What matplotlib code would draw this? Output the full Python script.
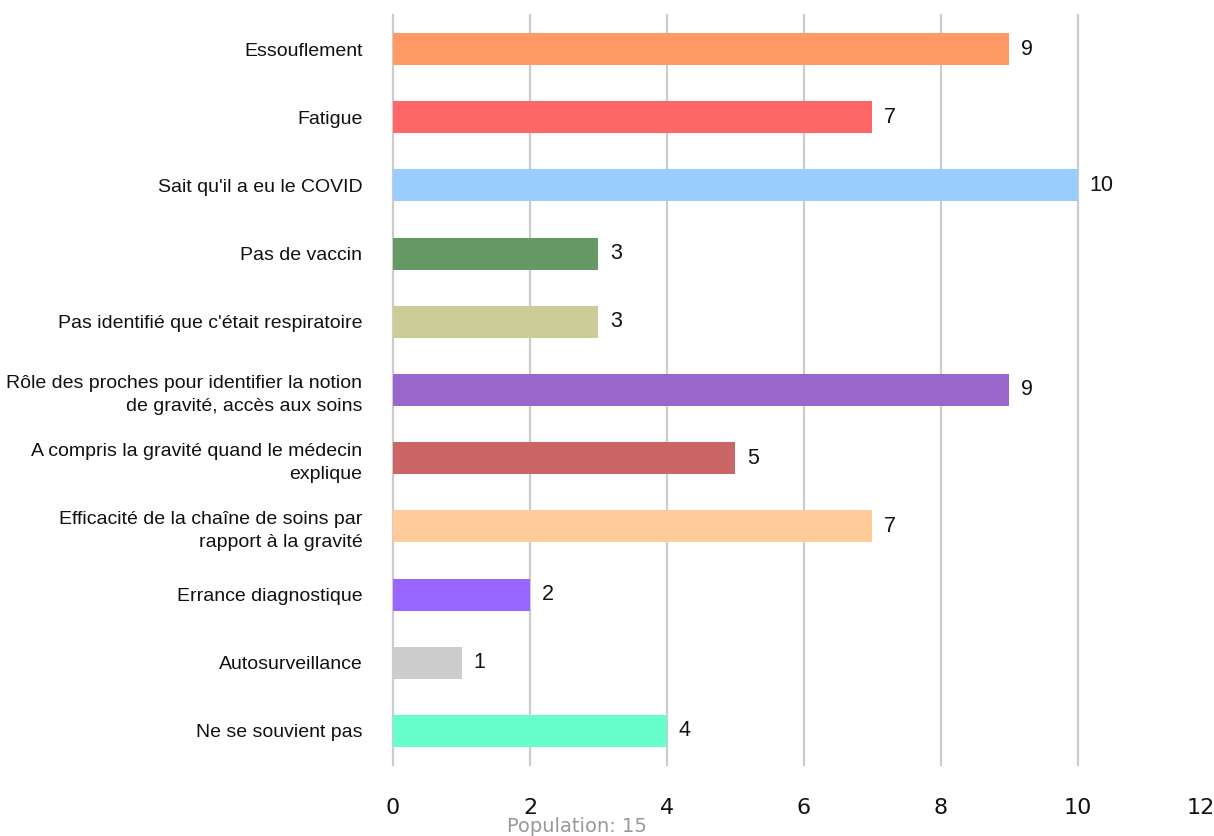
import matplotlib
matplotlib.use("Agg")
import matplotlib.pyplot as plt

categories = [
    "Essouflement",
    "Fatigue",
    "Sait qu'il a eu le COVID",
    "Pas de vaccin",
    "Pas identifié que c'était respiratoire",
    "Rôle des proches pour identifier la notion\nde gravité, accès aux soins",
    "A compris la gravité quand le médecin\nexplique",
    "Efficacité de la chaîne de soins par\nrapport à la gravité",
    "Errance diagnostique",
    "Autosurveillance",
    "Ne se souvient pas",
]
values = [9, 7, 10, 3, 3, 9, 5, 7, 2, 1, 4]
colors = ["#FF9966", "#FF6666", "#99CCFF", "#669966", "#CCCC99", "#9966CC",
          "#CC6666", "#FFCC99", "#9966FF", "#CCCCCC", "#66FFCC"]
x_ticks = [0, 2, 4, 6, 8, 10, 12]
footer = "Population: 15"

W, H = 1214, 836
fig = plt.figure(figsize=(W / 100, H / 100), dpi=100)
ax = fig.add_axes([393 / W, 1 - 765 / H, (1215 - 393) / W, (765 - 15) / H])

ypos = list(range(len(categories)))
ax.barh(ypos, values, height=0.47, color=colors, zorder=3)
for y, v in zip(ypos, values):
    ax.text(v + 0.17, y, str(v), va="center", ha="left", fontsize=15.5,
            family="Liberation Sans", color="#111111")

ax.set_ylim(len(categories) - 0.5, -0.5)
ax.set_xlim(0, 12)
ax.set_yticks(ypos)
ax.set_yticklabels(categories, fontsize=14, family="Liberation Sans", color="#111111",
                   linespacing=1.45)
ax.set_xticks(x_ticks)
ax.set_xticklabels([str(t) for t in x_ticks], fontsize=16, family="DejaVu Sans", color="#111111")
ax.tick_params(axis="y", length=0, pad=22)
ax.tick_params(axis="x", length=0, pad=24)
labs = ax.get_xticklabels()
labs[-1].set_ha("right")

for s in ax.spines.values():
    s.set_visible(False)
ax.grid(axis="x", color="#cccccc", linewidth=1.6, zorder=0)
ax.grid(axis="y", visible=False)
for gl in ax.get_xgridlines():
    gl.set_clip_on(False)
ax.get_xgridlines()[-1].set_visible(False)

fig.text(577 / W, 1 - 826 / H, footer, ha="center", va="center",
         fontsize=14, color="#999999", family="DejaVu Sans")

fig.savefig("out.png", dpi=100)
